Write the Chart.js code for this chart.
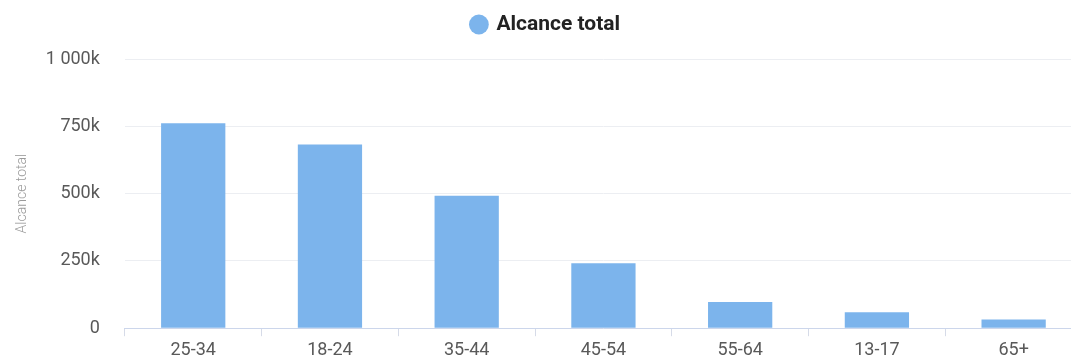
<!DOCTYPE html>
<html>
<head>
<meta charset="utf-8">
<script src="https://cdn.jsdelivr.net/npm/chart.js@4/dist/chart.umd.min.js"></script>
<style>
  html, body { margin: 0; padding: 0; background: #fff; overflow: hidden; }
  #wrap { position: relative; width: 1090px; height: 364px; }
</style>
</head>
<body>
<div id="wrap"><canvas id="alcance"></canvas></div>
<script>
// tranches d'age et alcance
var ageGroups = ['25-34', '18-24', '35-44', '45-54', '55-64', '13-17', '65+'];
var reachValues = [761000, 682000, 492000, 241000, 97000, 59000, 32000];
var yTicks = [0, 250000, 500000, 750000, 1000000];

function formatK(v) {
  if (v === 0) return '0';
  var k = Math.round(v / 1000).toString();
  return k.replace(/\B(?=(\d{3})+(?!\d))/g, ' ') + 'k';
}

// un peu plus d'espace sous la legende
var legendSpace = {
  id: 'legendSpace',
  beforeInit: function(chart) {
    var fitOrig = chart.legend.fit;
    chart.legend.fit = function() {
      fitOrig.bind(chart.legend)();
      this.height += 14;
    };
  }
};

var graph = new Chart(
  document.getElementById('alcance'),
  {
    type: 'bar',
    plugins: [legendSpace],
    data: {
      labels: ageGroups,
      datasets: [
        {
          label: 'Alcance total',
          data: reachValues,
          backgroundColor: '#7cb4ec',
          borderWidth: 0,
          barPercentage: 0.47,
          categoryPercentage: 1
        }
      ]
    },
    options: {
      animation: false,
      responsive: true,
      maintainAspectRatio: false,
      layout: { padding: { left: 10, right: 8, top: 4, bottom: 0 } },
      plugins: {
        legend: {
          display: true,
          labels: {
            usePointStyle: true,
            pointStyle: 'circle',
            boxWidth: 14,
            boxHeight: 14,
            padding: 10,
            color: '#222',
            font: { family: 'Roboto', size: 21, weight: 'bold' }
          }
        },
        tooltip: { enabled: false }
      },
      scales: {
        x: {
          offset: true,
          grid: {
            offset: true,
            drawOnChartArea: false,
            drawTicks: true,
            tickLength: 8,
            color: '#d6dbe8'
          },
          border: { color: '#ccd6eb', width: 1 },
          ticks: {
            color: '#595959',
            padding: 3,
            font: { family: 'Roboto', size: 18 }
          }
        },
        y: {
          min: 0,
          max: 1000000,
          afterBuildTicks: function(axis) {
            axis.ticks = yTicks.map(function(v) { return { value: v }; });
          },
          grid: {
            color: '#eceef2',
            drawTicks: false
          },
          border: { display: false },
          ticks: {
            color: '#595959',
            padding: 25,
            font: { family: 'Roboto', size: 18 },
            callback: function(v) { return formatK(v); }
          },
          title: {
            display: true,
            text: 'Alcance total',
            color: '#9a9a9a',
            padding: { top: 4, bottom: -10 },
            font: { family: 'Roboto', size: 14, weight: '300' }
          }
        }
      }
    }
  });
</script>
</body>
</html>
